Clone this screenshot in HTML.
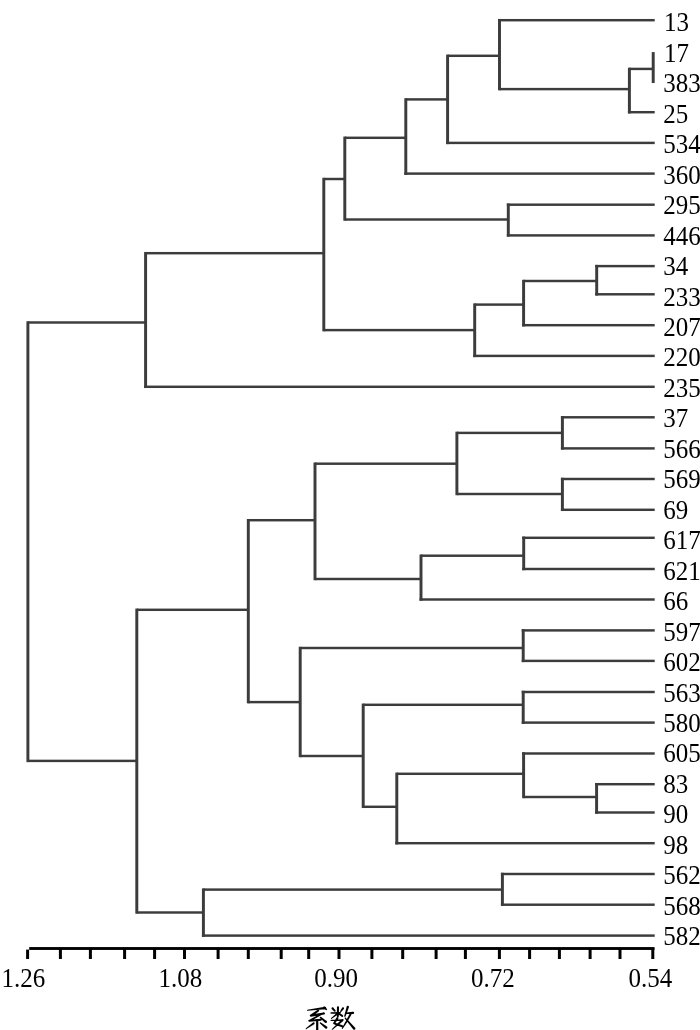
<!DOCTYPE html>
<html><head><meta charset="utf-8"><style>
html,body{margin:0;padding:0;background:#fff;width:700px;height:1030px;overflow:hidden}
svg{display:block;will-change:transform}
text{font-family:"Liberation Serif",serif;font-size:25px;fill:#000}
</style></head><body>
<svg width="700" height="1030" viewBox="0 0 700 1030">
<g>
<rect x="498.02" y="18.97" width="156.68" height="2.45" fill="#3c3c3c"/>
<rect x="627.92" y="110.98" width="26.78" height="2.45" fill="#3c3c3c"/>
<rect x="446.12" y="141.68" width="208.58" height="2.45" fill="#3c3c3c"/>
<rect x="404.32" y="172.38" width="250.38" height="2.45" fill="#3c3c3c"/>
<rect x="506.82" y="203.47" width="147.88" height="2.45" fill="#3c3c3c"/>
<rect x="506.82" y="234.18" width="147.88" height="2.45" fill="#3c3c3c"/>
<rect x="595.23" y="264.88" width="59.48" height="2.45" fill="#3c3c3c"/>
<rect x="595.23" y="293.07" width="59.48" height="2.45" fill="#3c3c3c"/>
<rect x="522.12" y="323.97" width="132.58" height="2.45" fill="#3c3c3c"/>
<rect x="473.22" y="354.67" width="181.48" height="2.45" fill="#3c3c3c"/>
<rect x="144.12" y="385.57" width="510.58" height="2.45" fill="#3c3c3c"/>
<rect x="560.92" y="416.07" width="93.78" height="2.45" fill="#3c3c3c"/>
<rect x="560.92" y="447.17" width="93.78" height="2.45" fill="#3c3c3c"/>
<rect x="560.92" y="477.77" width="93.78" height="2.45" fill="#3c3c3c"/>
<rect x="560.92" y="508.57" width="93.78" height="2.45" fill="#3c3c3c"/>
<rect x="522.23" y="536.57" width="132.48" height="2.45" fill="#3c3c3c"/>
<rect x="522.23" y="567.77" width="132.48" height="2.45" fill="#3c3c3c"/>
<rect x="419.52" y="598.27" width="235.18" height="2.45" fill="#3c3c3c"/>
<rect x="521.73" y="629.17" width="132.98" height="2.45" fill="#3c3c3c"/>
<rect x="521.73" y="659.67" width="132.98" height="2.45" fill="#3c3c3c"/>
<rect x="521.73" y="690.77" width="132.98" height="2.45" fill="#3c3c3c"/>
<rect x="521.73" y="721.38" width="132.98" height="2.45" fill="#3c3c3c"/>
<rect x="522.12" y="752.27" width="132.58" height="2.45" fill="#3c3c3c"/>
<rect x="595.12" y="782.98" width="59.58" height="2.45" fill="#3c3c3c"/>
<rect x="595.12" y="811.27" width="59.58" height="2.45" fill="#3c3c3c"/>
<rect x="395.32" y="841.98" width="259.38" height="2.45" fill="#3c3c3c"/>
<rect x="500.92" y="872.77" width="153.78" height="2.45" fill="#3c3c3c"/>
<rect x="500.92" y="903.48" width="153.78" height="2.45" fill="#3c3c3c"/>
<rect x="201.93" y="934.38" width="452.78" height="2.45" fill="#3c3c3c"/>
<rect x="651.73" y="52.08" width="2.95" height="30.95" fill="#3c3c3c"/>
<rect x="629.4" y="67.68" width="23.8" height="2.45" fill="#3c3c3c"/>
<rect x="627.92" y="67.68" width="2.95" height="45.75" fill="#3c3c3c"/>
<rect x="499.5" y="87.88" width="129.9" height="2.45" fill="#3c3c3c"/>
<rect x="498.02" y="18.97" width="2.95" height="71.35" fill="#3c3c3c"/>
<rect x="447.6" y="54.57" width="51.9" height="2.45" fill="#3c3c3c"/>
<rect x="446.12" y="54.57" width="2.95" height="89.55" fill="#3c3c3c"/>
<rect x="405.8" y="98.18" width="41.8" height="2.45" fill="#3c3c3c"/>
<rect x="404.32" y="98.18" width="2.95" height="76.65" fill="#3c3c3c"/>
<rect x="344.8" y="136.58" width="61" height="2.45" fill="#3c3c3c"/>
<rect x="506.82" y="203.47" width="2.95" height="33.15" fill="#3c3c3c"/>
<rect x="344.8" y="218.28" width="163.5" height="2.45" fill="#3c3c3c"/>
<rect x="343.32" y="136.58" width="2.95" height="84.15" fill="#3c3c3c"/>
<rect x="323.8" y="177.78" width="21" height="2.45" fill="#3c3c3c"/>
<rect x="595.23" y="264.88" width="2.95" height="30.65" fill="#3c3c3c"/>
<rect x="523.6" y="279.77" width="73.1" height="2.45" fill="#3c3c3c"/>
<rect x="522.12" y="279.77" width="2.95" height="46.65" fill="#3c3c3c"/>
<rect x="474.7" y="303.38" width="48.9" height="2.45" fill="#3c3c3c"/>
<rect x="473.22" y="303.38" width="2.95" height="53.75" fill="#3c3c3c"/>
<rect x="323.8" y="328.88" width="150.9" height="2.45" fill="#3c3c3c"/>
<rect x="322.32" y="177.78" width="2.95" height="153.55" fill="#3c3c3c"/>
<rect x="145.6" y="251.97" width="178.2" height="2.45" fill="#3c3c3c"/>
<rect x="144.12" y="251.97" width="2.95" height="136.05" fill="#3c3c3c"/>
<rect x="27.9" y="321.27" width="117.7" height="2.45" fill="#3c3c3c"/>
<rect x="560.92" y="416.07" width="2.95" height="33.55" fill="#3c3c3c"/>
<rect x="456.9" y="431.67" width="105.5" height="2.45" fill="#3c3c3c"/>
<rect x="560.92" y="477.77" width="2.95" height="33.25" fill="#3c3c3c"/>
<rect x="456.9" y="492.77" width="105.5" height="2.45" fill="#3c3c3c"/>
<rect x="455.42" y="431.67" width="2.95" height="63.55" fill="#3c3c3c"/>
<rect x="315" y="462.47" width="141.9" height="2.45" fill="#3c3c3c"/>
<rect x="522.23" y="536.57" width="2.95" height="33.65" fill="#3c3c3c"/>
<rect x="421" y="554.48" width="102.7" height="2.45" fill="#3c3c3c"/>
<rect x="419.52" y="554.48" width="2.95" height="46.25" fill="#3c3c3c"/>
<rect x="315" y="577.77" width="106" height="2.45" fill="#3c3c3c"/>
<rect x="313.52" y="462.47" width="2.95" height="117.75" fill="#3c3c3c"/>
<rect x="248.3" y="518.98" width="66.7" height="2.45" fill="#3c3c3c"/>
<rect x="521.73" y="629.17" width="2.95" height="32.95" fill="#3c3c3c"/>
<rect x="300.2" y="646.77" width="223" height="2.45" fill="#3c3c3c"/>
<rect x="521.73" y="690.77" width="2.95" height="33.05" fill="#3c3c3c"/>
<rect x="363.2" y="703.57" width="160" height="2.45" fill="#3c3c3c"/>
<rect x="595.12" y="782.98" width="2.95" height="30.75" fill="#3c3c3c"/>
<rect x="523.6" y="795.77" width="73" height="2.45" fill="#3c3c3c"/>
<rect x="522.12" y="752.27" width="2.95" height="45.95" fill="#3c3c3c"/>
<rect x="396.8" y="772.57" width="126.8" height="2.45" fill="#3c3c3c"/>
<rect x="395.32" y="772.57" width="2.95" height="71.85" fill="#3c3c3c"/>
<rect x="363.2" y="805.57" width="33.6" height="2.45" fill="#3c3c3c"/>
<rect x="361.72" y="703.57" width="2.95" height="104.45" fill="#3c3c3c"/>
<rect x="300.2" y="754.77" width="63" height="2.45" fill="#3c3c3c"/>
<rect x="298.72" y="646.77" width="2.95" height="110.45" fill="#3c3c3c"/>
<rect x="248.3" y="700.88" width="51.9" height="2.45" fill="#3c3c3c"/>
<rect x="246.83" y="518.98" width="2.95" height="184.35" fill="#3c3c3c"/>
<rect x="136.8" y="608.57" width="111.5" height="2.45" fill="#3c3c3c"/>
<rect x="500.92" y="872.77" width="2.95" height="33.15" fill="#3c3c3c"/>
<rect x="203.4" y="888.38" width="299" height="2.45" fill="#3c3c3c"/>
<rect x="201.93" y="888.38" width="2.95" height="48.45" fill="#3c3c3c"/>
<rect x="136.8" y="911.27" width="66.6" height="2.45" fill="#3c3c3c"/>
<rect x="135.33" y="608.57" width="2.95" height="305.15" fill="#3c3c3c"/>
<rect x="27.9" y="759.67" width="108.9" height="2.45" fill="#3c3c3c"/>
<rect x="26.42" y="321.27" width="2.95" height="440.85" fill="#3c3c3c"/>
<rect x="29.2" y="947.07" width="625.3" height="2.86" fill="#000"/>
<rect x="26.1" y="949.6" width="3" height="9.4" fill="#000"/>
<rect x="58.9" y="948" width="3" height="11" fill="#000"/>
<rect x="88.9" y="948" width="3" height="11" fill="#000"/>
<rect x="123.1" y="948" width="3" height="11" fill="#000"/>
<rect x="153.1" y="948" width="3" height="11" fill="#000"/>
<rect x="183" y="948" width="3" height="11" fill="#000"/>
<rect x="216.6" y="948" width="3" height="11" fill="#000"/>
<rect x="246.8" y="948" width="3" height="11" fill="#000"/>
<rect x="279.7" y="948" width="3" height="11" fill="#000"/>
<rect x="307.2" y="948" width="3" height="11" fill="#000"/>
<rect x="337.5" y="948" width="3" height="11" fill="#000"/>
<rect x="370.4" y="948" width="3" height="11" fill="#000"/>
<rect x="401.2" y="948" width="3" height="11" fill="#000"/>
<rect x="434.6" y="948" width="3" height="11" fill="#000"/>
<rect x="463.9" y="948" width="3" height="11" fill="#000"/>
<rect x="497.9" y="948" width="3" height="11" fill="#000"/>
<rect x="528.1" y="948" width="3" height="11" fill="#000"/>
<rect x="557.9" y="948" width="3" height="11" fill="#000"/>
<rect x="588.6" y="948" width="3" height="11" fill="#000"/>
<rect x="618.5" y="948" width="3" height="11" fill="#000"/>
<rect x="651.3" y="948" width="3" height="11" fill="#000"/>
</g>
<text transform="translate(664.1 31.35) scale(1 1.06)">13</text>
<text transform="translate(664.1 61.81) scale(1 1.06)">17</text>
<text transform="translate(663.3 92.28) scale(1 1.06)">383</text>
<text transform="translate(663.3 122.74) scale(1 1.06)">25</text>
<text transform="translate(663.3 153.21) scale(1 1.06)">534</text>
<text transform="translate(663.3 183.67) scale(1 1.06)">360</text>
<text transform="translate(663.3 214.13) scale(1 1.06)">295</text>
<text transform="translate(663.3 244.6) scale(1 1.06)">446</text>
<text transform="translate(663.3 275.06) scale(1 1.06)">34</text>
<text transform="translate(663.3 305.53) scale(1 1.06)">233</text>
<text transform="translate(663.3 335.99) scale(1 1.06)">207</text>
<text transform="translate(663.3 366.45) scale(1 1.06)">220</text>
<text transform="translate(663.3 396.92) scale(1 1.06)">235</text>
<text transform="translate(663.3 427.38) scale(1 1.06)">37</text>
<text transform="translate(663.3 457.85) scale(1 1.06)">566</text>
<text transform="translate(663.3 488.31) scale(1 1.06)">569</text>
<text transform="translate(663.3 518.77) scale(1 1.06)">69</text>
<text transform="translate(663.3 549.24) scale(1 1.06)">617</text>
<text transform="translate(663.3 579.7) scale(1 1.06)">621</text>
<text transform="translate(663.3 610.17) scale(1 1.06)">66</text>
<text transform="translate(663.3 640.63) scale(1 1.06)">597</text>
<text transform="translate(663.3 671.09) scale(1 1.06)">602</text>
<text transform="translate(663.3 701.56) scale(1 1.06)">563</text>
<text transform="translate(663.3 732.02) scale(1 1.06)">580</text>
<text transform="translate(663.3 762.49) scale(1 1.06)">605</text>
<text transform="translate(663.3 792.95) scale(1 1.06)">83</text>
<text transform="translate(663.3 823.41) scale(1 1.06)">90</text>
<text transform="translate(663.3 853.88) scale(1 1.06)">98</text>
<text transform="translate(663.3 884.34) scale(1 1.06)">562</text>
<text transform="translate(663.3 914.81) scale(1 1.06)">568</text>
<text transform="translate(663.3 945.27) scale(1 1.06)">582</text>
<text transform="translate(1.6 987) scale(1 1.06)">1.26</text>
<text transform="translate(158.6 987) scale(1 1.06)">1.08</text>
<text transform="translate(314.2 987) scale(1 1.06)">0.90</text>
<text transform="translate(471 987) scale(1 1.06)">0.72</text>
<text transform="translate(628.4 987) scale(1 1.06)">0.54</text>
<path d="M307.46 1010.75 L325.22 1009.14 L324.93 1006.86 L307.33 1009.75Z M306.89 1010.25a0.5 0.5 0 1 0 1 0a0.5 0.5 0 1 0 -1 0 M323.92 1008a1.15 1.15 0 1 0 2.3 0a1.15 1.15 0 1 0 -2.3 0 M323.39 1008.36 L325.83 1009.99 L326.81 1008.72 L324.61 1006.78Z M323 1007.57a1 1 0 1 0 2 0a1 1 0 1 0 -2 0 M325.52 1009.36a0.8 0.8 0 1 0 1.6 0a0.8 0.8 0 1 0 -1.6 0 M317.76 1009.82 L310.26 1014.82 L311.31 1016.4 L318.81 1011.4Z M317.34 1010.61a0.95 0.95 0 1 0 1.9 0a0.95 0.95 0 1 0 -1.9 0 M309.84 1015.61a0.95 0.95 0 1 0 1.9 0a0.95 0.95 0 1 0 -1.9 0 M310.95 1016.64 L324.17 1014.5 L323.83 1012.43 L310.62 1014.57Z M309.74 1015.61a1.05 1.05 0 1 0 2.1 0a1.05 1.05 0 1 0 -2.1 0 M322.95 1013.46a1.05 1.05 0 1 0 2.1 0a1.05 1.05 0 1 0 -2.1 0 M322.9 1012.41 L308.9 1019.95 L309.82 1021.62 L323.67 1013.81Z M322.49 1013.11a0.8 0.8 0 1 0 1.6 0a0.8 0.8 0 1 0 -1.6 0 M308.41 1020.79a0.95 0.95 0 1 0 1.9 0a0.95 0.95 0 1 0 -1.9 0 M309.46 1021.83 L320.88 1020.71 L320.69 1018.72 L309.26 1019.74Z M308.31 1020.79a1.05 1.05 0 1 0 2.1 0a1.05 1.05 0 1 0 -2.1 0 M319.79 1019.71a1 1 0 1 0 2 0a1 1 0 1 0 -2 0 M319.98 1017.93 L324.99 1022.82 L326.59 1020.9 L320.88 1016.86Z M319.73 1017.39a0.7 0.7 0 1 0 1.4 0a0.7 0.7 0 1 0 -1.4 0 M324.54 1021.86a1.25 1.25 0 1 0 2.5 0a1.25 1.25 0 1 0 -2.5 0 M316.11 1020.07 L316.11 1030.43 L318.31 1030.43 L318.31 1020.07Z M316.11 1020.07a1.1 1.1 0 1 0 2.2 0a1.1 1.1 0 1 0 -2.2 0 M316.11 1030.43a1.1 1.1 0 1 0 2.2 0a1.1 1.1 0 1 0 -2.2 0 M313.03 1022.43 L305.85 1028.24 L306.43 1029.05 L314.25 1024.14Z M312.59 1023.29a1.05 1.05 0 1 0 2.1 0a1.05 1.05 0 1 0 -2.1 0 M305.64 1028.64a0.5 0.5 0 1 0 1 0a0.5 0.5 0 1 0 -1 0 M319.99 1023.47 L325.35 1028.54 L326.93 1026.6 L320.87 1022.39Z M319.73 1022.93a0.7 0.7 0 1 0 1.4 0a0.7 0.7 0 1 0 -1.4 0 M324.89 1027.57a1.25 1.25 0 1 0 2.5 0a1.25 1.25 0 1 0 -2.5 0 M331.79 1009.2 L334.17 1011.48 L335.49 1010.26 L333.41 1007.71Z M331.5 1008.46a1.1 1.1 0 1 0 2.2 0a1.1 1.1 0 1 0 -2.2 0 M333.93 1010.87a0.9 0.9 0 1 0 1.8 0a0.9 0.9 0 1 0 -1.8 0 M342.1 1007.64 L340.2 1011.03 L341.34 1011.83 L343.9 1008.91Z M341.9 1008.27a1.1 1.1 0 1 0 2.2 0a1.1 1.1 0 1 0 -2.2 0 M340.07 1011.43a0.7 0.7 0 1 0 1.4 0a0.7 0.7 0 1 0 -1.4 0 M336.94 1007.32 L336.8 1016.24 L338.8 1016.28 L339.04 1007.37Z M336.94 1007.34a1.05 1.05 0 1 0 2.1 0a1.05 1.05 0 1 0 -2.1 0 M336.8 1016.26a1 1 0 1 0 2 0a1 1 0 1 0 -2 0 M331.12 1013.67 L340.04 1013.6 L340.02 1012 L331.11 1012.17Z M330.36 1012.92a0.75 0.75 0 1 0 1.5 0a0.75 0.75 0 1 0 -1.5 0 M339.23 1012.8a0.8 0.8 0 1 0 1.6 0a0.8 0.8 0 1 0 -1.6 0 M337.2 1012.55 L331.17 1018.1 L331.8 1018.87 L338.4 1014.02Z M336.85 1013.29a0.95 0.95 0 1 0 1.9 0a0.95 0.95 0 1 0 -1.9 0 M330.99 1018.49a0.5 0.5 0 1 0 1 0a0.5 0.5 0 1 0 -1 0 M338.78 1014.84 L341.73 1016.74 L342.79 1015.04 L339.79 1013.22Z M338.34 1014.03a0.95 0.95 0 1 0 1.9 0a0.95 0.95 0 1 0 -1.9 0 M341.26 1015.89a1 1 0 1 0 2 0a1 1 0 1 0 -2 0 M331.14 1021.04 L343.03 1020.77 L342.98 1019.17 L331.09 1019.65Z M330.41 1020.34a0.7 0.7 0 1 0 1.4 0a0.7 0.7 0 1 0 -1.4 0 M342.2 1019.97a0.8 0.8 0 1 0 1.6 0a0.8 0.8 0 1 0 -1.6 0 M336.55 1017.55 L333.25 1022.78 L334.93 1023.86 L338.31 1018.68Z M336.38 1018.12a1.05 1.05 0 1 0 2.1 0a1.05 1.05 0 1 0 -2.1 0 M333.09 1023.32a1 1 0 1 0 2 0a1 1 0 1 0 -2 0 M333.76 1024.21 L341.92 1027.23 L342.6 1025.35 L334.41 1022.42Z M333.14 1023.32a0.95 0.95 0 1 0 1.9 0a0.95 0.95 0 1 0 -1.9 0 M341.26 1026.29a1 1 0 1 0 2 0a1 1 0 1 0 -2 0 M341.56 1019.56 L331.9 1028.89 L332.56 1029.63 L342.96 1021.13Z M341.21 1020.34a1.05 1.05 0 1 0 2.1 0a1.05 1.05 0 1 0 -2.1 0 M331.73 1029.26a0.5 0.5 0 1 0 1 0a0.5 0.5 0 1 0 -1 0 M346.74 1006.62 L344.19 1016.05 L345.53 1016.47 L348.93 1007.32Z M346.68 1006.97a1.15 1.15 0 1 0 2.3 0a1.15 1.15 0 1 0 -2.3 0 M344.16 1016.26a0.7 0.7 0 1 0 1.4 0a0.7 0.7 0 1 0 -1.4 0 M346.01 1014.04 L353.09 1014.06 L352.97 1011.77 L345.93 1012.54Z M345.22 1013.29a0.75 0.75 0 1 0 1.5 0a0.75 0.75 0 1 0 -1.5 0 M351.88 1012.92a1.15 1.15 0 1 0 2.3 0a1.15 1.15 0 1 0 -2.3 0 M349.92 1013.18 L345.23 1022.17 L346.72 1022.98 L351.68 1014.13Z M349.8 1013.66a1 1 0 1 0 2 0a1 1 0 1 0 -2 0 M345.12 1022.57a0.85 0.85 0 1 0 1.7 0a0.85 0.85 0 1 0 -1.7 0 M345.25 1022.12 L341.83 1028.25 L342.68 1028.78 L346.69 1023.02Z M345.12 1022.57a0.85 0.85 0 1 0 1.7 0a0.85 0.85 0 1 0 -1.7 0 M341.76 1028.52a0.5 0.5 0 1 0 1 0a0.5 0.5 0 1 0 -1 0 M344.7 1018.57 L353.16 1029.36 L355.13 1027.67 L345.76 1017.66Z M344.53 1018.12a0.7 0.7 0 1 0 1.4 0a0.7 0.7 0 1 0 -1.4 0 M352.85 1028.52a1.3 1.3 0 1 0 2.6 0a1.3 1.3 0 1 0 -2.6 0" fill="#000" fill-rule="nonzero"/>
</svg>
</body></html>
